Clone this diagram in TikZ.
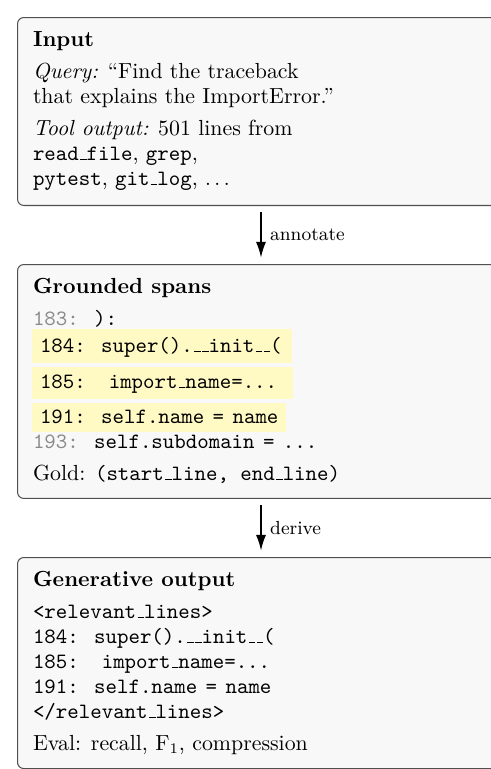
\documentclass[tikz,border=0pt]{standalone}
\usetikzlibrary{arrows.meta}
\definecolor{boxfill}{HTML}{F8F8F8}
\definecolor{boxline}{HTML}{505050}
\definecolor{hl}{HTML}{FFFAC4}
\definecolor{lnum}{HTML}{8A8A8A}
\newcommand{\us}{\leavevmode\kern.06em\vbox{\hrule width.3em}}
\newcommand{\eqsp}{\hspace{4pt}=\hspace{4pt}}
\begin{document}
\begin{tikzpicture}[x=0.47619pt,y=-0.47619pt,
  txt/.style={anchor=base west,inner sep=0pt,outer sep=0pt,font=\fontsize{10.4pt}{12pt}\selectfont},
  panel/.style={draw=boxline,fill=boxfill,rounded corners=3pt,line width=0.5pt,anchor=north west,inner sep=0pt,minimum width=232.4pt},
  flow/.style={-{Latex[length=7.5pt,width=4.8pt]},line width=0.8pt,shorten <=3pt,shorten >=3pt},
  lbl/.style={midway,right=4pt,inner sep=0pt,font=\small}]
\useasboundingbox (0,0) rectangle (491,769);
\clip (0,0) rectangle (491,769);
% panels
\node[panel,minimum height=89.5pt] (input) at (17,17) {};
\node[panel,minimum height=111.4pt] (spans) at (17,264) {};
\node[panel,minimum height=100.5pt] (gen) at (17,557) {};
\coordinate (ax) at (261,0);
% arrows
\draw[flow] (input.south -| ax) -- (spans.north -| ax) node[lbl] (annot) {annotate};
\draw[flow] (spans.south -| ax) -- (gen.north -| ax) node[lbl] (deriv) {derive};
% Input
\node[txt] (t1) at (33,46) {\bfseries Input};
\node[txt] (q1) at (33,78) {\textit{Query:} ``Find the traceback};
\node[txt] (q2) at (33,103) {that explains the ImportError.''};
\node[txt] (o1) at (33,135) {\textit{Tool output:} 501 lines from};
\node[txt] (o2) at (33,160) {\texttt{read\us file}, \texttt{grep},};
\node[txt] (o3) at (33,185) {\texttt{pytest}, \texttt{git\us log}, $\ldots$};
% Grounded spans
\node[txt] (t2) at (33,293) {\bfseries Grounded spans};
\node[txt] (l183) at (33,325) {\texttt{\textcolor{lnum}{183:} ):}};
\fill[hl] (32,329) rectangle (292,363);
\fill[hl] (32,367) rectangle (293,399);
\fill[hl] (32,403) rectangle (286,432);
\node[txt] (l184) at (40,352) {\texttt{184: super().\us\us init\us\us(}};
\node[txt] (l185) at (40,388) {\texttt{185:~~import\us name=...}};
\node[txt] (l191) at (40,423) {\texttt{191: self.name\eqsp name}};
\node[txt] (l193) at (33,448) {\texttt{\textcolor{lnum}{193:} self.subdomain\eqsp ...}};
\node[txt] (gold) at (33,480) {Gold: \texttt{(start\us line, end\us line)}};
% Generative output
\node[txt] (t3) at (33,586) {\bfseries Generative output};
\node[txt] (g1) at (33,618) {\texttt{<relevant\us lines>}};
\node[txt] (g2) at (33,643) {\texttt{184: super().\us\us init\us\us(}};
\node[txt] (g3) at (33,668) {\texttt{185:~~import\us name=...}};
\node[txt] (g4) at (33,693) {\texttt{191: self.name\eqsp name}};
\node[txt] (g5) at (33,718) {\texttt{</relevant\us lines>}};
\node[txt] (ev) at (33,750) {Eval: recall, F$_1$, compression};
\end{tikzpicture}
\end{document}
